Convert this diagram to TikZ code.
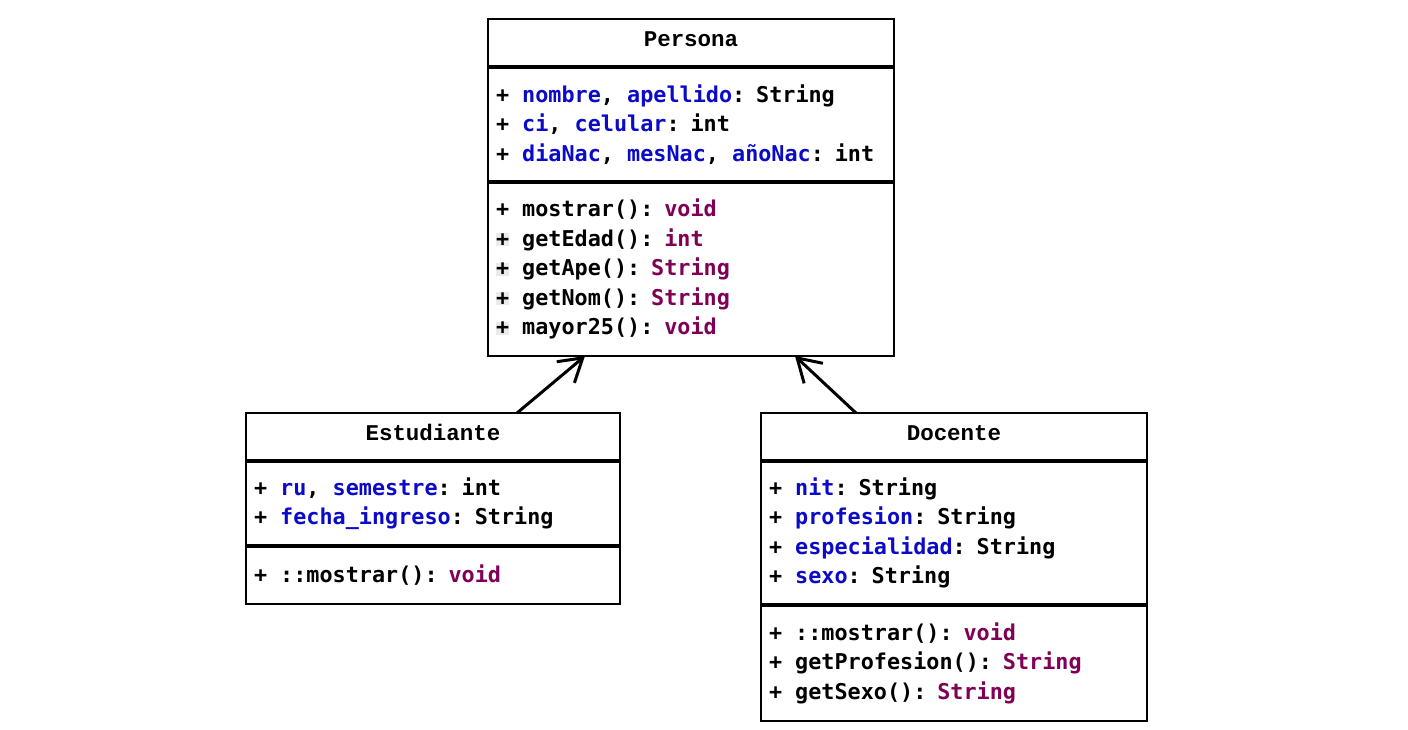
\documentclass[tikz,border=0pt]{standalone}
\usepackage{fontspec}
\setmonofont{DejaVu Sans Mono}
\newfontfamily\clsfont{Liberation Mono}
\usetikzlibrary{positioning,arrows.meta,calc}
\definecolor{attrblue}{RGB}{10,10,200}
\definecolor{typepurple}{RGB}{127,0,85}
\newcommand{\fld}[1]{\textcolor{attrblue}{#1}}
\newcommand{\rtype}[1]{\textcolor{typepurple}{#1}}
\newcommand{\hlplus}{{\setlength{\fboxsep}{0pt}\colorbox{black!8}{+}}}
\DeclareRobustCommand{\fixspaces}{\spaceskip=0.602em\relax}

\begin{document}
\begin{tikzpicture}[>={Straight Barb[length=0.45cm,width=0.55cm]},
  every node/.style={draw, line width=1.1pt, outer sep=0pt, inner xsep=0.16cm, inner ysep=0pt},
  clsname/.style={align=center, minimum height=0.96cm, text height=0.2cm, text depth=0.08cm,
    font=\clsfont\bfseries\fontsize{12.8}{15}\selectfont},
  members/.style={align=left, font=\ttfamily\bfseries\fontsize{12.4}{16.8}\selectfont,
    execute at begin node=\fixspaces},
  sep/.style={line width=2.2pt}]
  \useasboundingbox (0,0) rectangle (28.16,-14.6);

  % Persona
  \node[clsname, text width=7.8cm, anchor=north] (pers) at (13.82,-0.38) {Persona};
  \node[members, text width=7.8cm, minimum height=2.30cm, below=0pt of pers] (persA) {%
    + \fld{nombre}, \fld{apellido}: String\\
    + \fld{ci}, \fld{celular}: int\\
    + \fld{diaNac}, \fld{mesNac}, \fld{añoNac}: int};
  \node[members, text width=7.8cm, minimum height=3.48cm, below=0pt of persA] (persM) {%
    + mostrar(): \rtype{void}\\
    \hlplus{} getEdad(): \rtype{int}\\
    \hlplus{} getApe(): \rtype{String}\\
    \hlplus{} getNom(): \rtype{String}\\
    \hlplus{} mayor25(): \rtype{void}};

  % Estudiante
  \node[clsname, text width=7.16cm, anchor=north] (est) at (8.66,-8.26) {Estudiante};
  \node[members, text width=7.16cm, minimum height=1.70cm, below=0pt of est] (estA) {%
    + \fld{ru}, \fld{semestre}: int\\
    + \fld{fecha\_ingreso}: String};
  \node[members, text width=7.16cm, minimum height=1.16cm, below=0pt of estA] (estM) {%
    + ::mostrar(): \rtype{void}};

  % Docente
  \node[clsname, text width=7.4cm, anchor=north] (doc) at (19.08,-8.26) {Docente};
  \node[members, text width=7.4cm, minimum height=2.88cm, below=0pt of doc] (docA) {%
    + \fld{nit}: String\\
    + \fld{profesion}: String\\
    + \fld{especialidad}: String\\
    + \fld{sexo}: String};
  \node[members, text width=7.4cm, minimum height=2.32cm, below=0pt of docA] (docM) {%
    + ::mostrar(): \rtype{void}\\
    + getProfesion(): \rtype{String}\\
    + getSexo(): \rtype{String}};

  % separators
  \draw[sep] (persA.north west) -- (persA.north east);
  \draw[sep] (persM.north west) -- (persM.north east);
  \draw[sep] (estA.north west) -- (estA.north east);
  \draw[sep] (estM.north west) -- (estM.north east);
  \draw[sep] (docA.north west) -- (docA.north east);
  \draw[sep] (docM.north west) -- (docM.north east);

  % herencia
  \draw[->, line width=1.7pt] ([xshift=-2.06cm]est.north east) -- ([xshift=1.94cm]persM.south west);
  \draw[->, line width=1.7pt] ([xshift=1.9cm]doc.north west) -- ([xshift=-1.98cm]persM.south east);
\end{tikzpicture}
\end{document}
